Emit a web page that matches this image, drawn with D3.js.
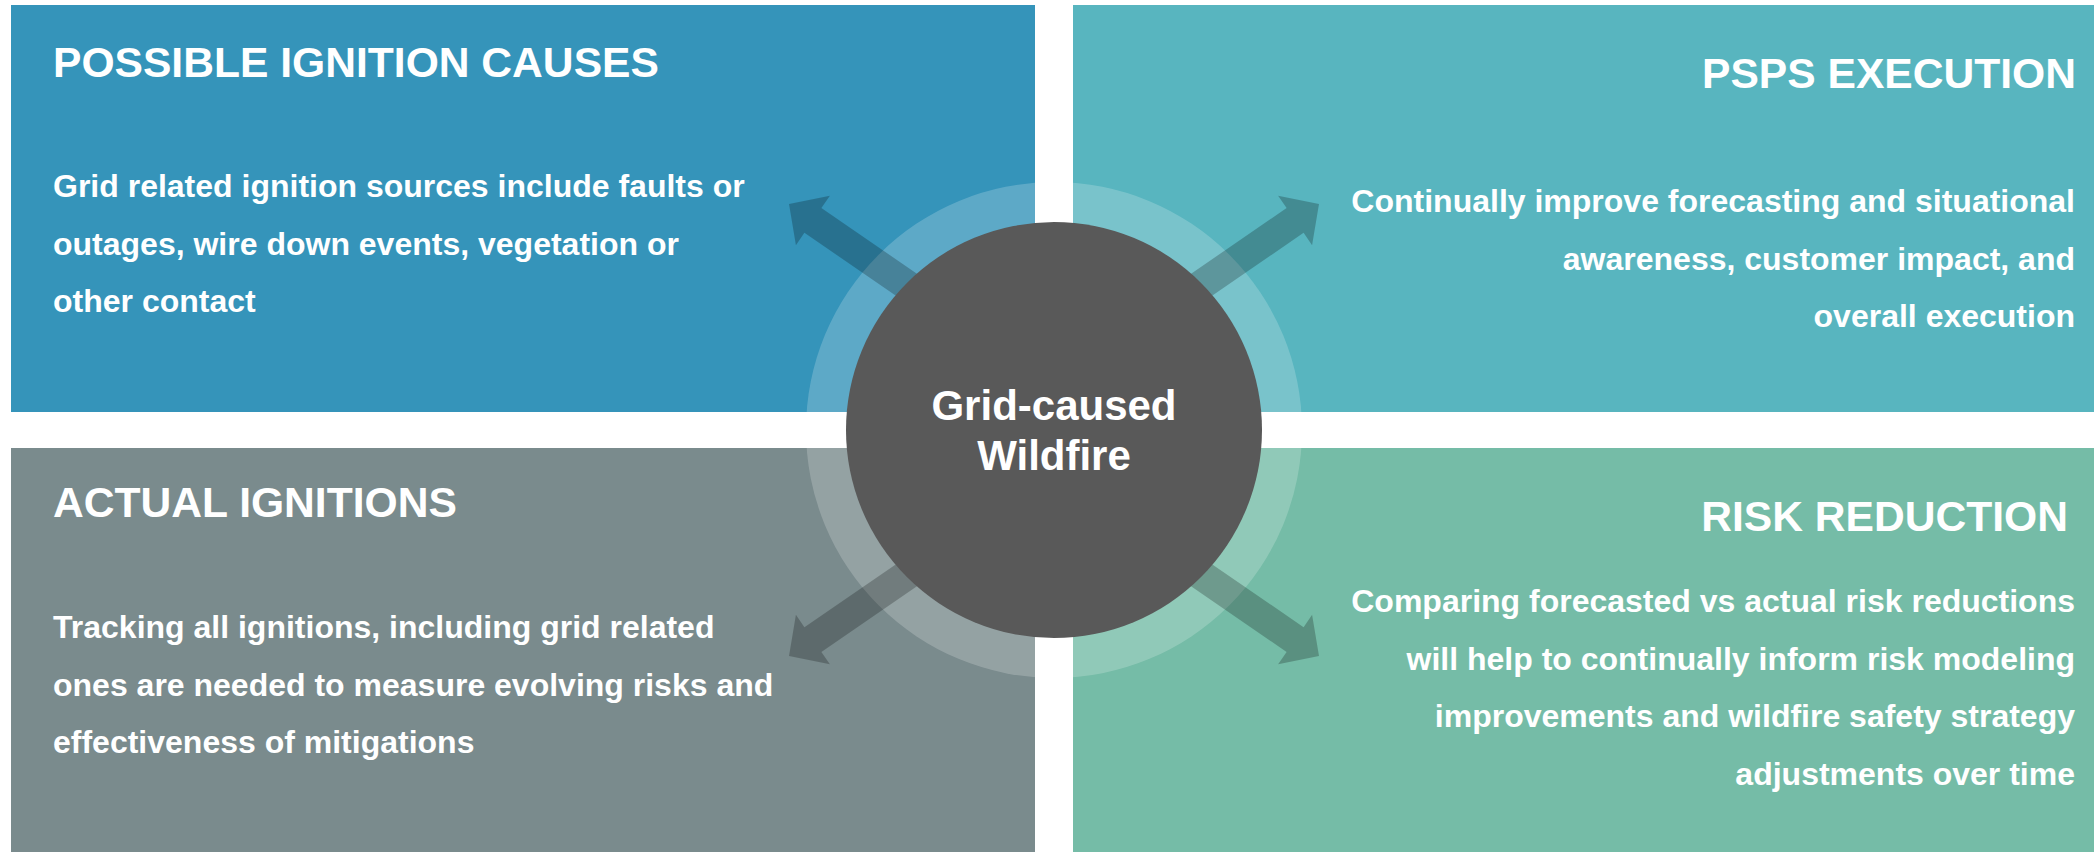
<!DOCTYPE html>
<html>
<head>
<meta charset="utf-8">
<script src="https://cdn.jsdelivr.net/npm/d3@7"></script>
<style>
  body { margin: 0; background: #fff; }
  svg { display: block; }
  text { font-family: "Liberation Sans", Arial, sans-serif; font-weight: bold; fill: #fff; }
</style>
</head>
<body>
<script>
// quadrant content
const titles = ["POSSIBLE IGNITION CAUSES", "PSPS EXECUTION", "ACTUAL IGNITIONS", "RISK REDUCTION"];
const bodyLines = [
  ["Grid related ignition sources include faults or", "outages, wire down events, vegetation or", "other contact"],
  ["Continually improve forecasting and situational", "awareness, customer impact, and", "overall execution"],
  ["Tracking all ignitions, including grid related", "ones are needed to measure evolving risks and", "effectiveness of mitigations"],
  ["Comparing forecasted vs actual risk reductions", "will help to continually inform risk modeling", "improvements and wildfire safety strategy", "adjustments over time"]
];
const fills = ["#3594ba", "#58b5bf", "#7a8b8d", "#75bca7"];
const centerLines = ["Grid-caused", "Wildfire"];

const width = 2094, height = 852;
const cx = 1054, cy = 430;

const svg = d3.select("body").append("svg")
  .attr("width", width)
  .attr("height", height);

// layout per quadrant (col, row, text anchor, title baseline, first body baseline)
const layout = [
  { col: 0, row: 0, anchor: "start", tx: 53, ty: 77, by: 197 },
  { col: 1, row: 0, anchor: "end", tx: 2076, ty: 88, by: 212 },
  { col: 0, row: 1, anchor: "start", tx: 53, ty: 517, by: 638 },
  { col: 1, row: 1, anchor: "end", tx: 2068, ty: 531, by: 612 }
];
const colX = [[11, 1035], [1073, width]];
const rowY = [[5, 412], [448, height]];

const quads = svg.selectAll("g.quad")
  .data(titles.map((t, i) => ({ title: t, lines: bodyLines[i], fill: fills[i], ...layout[i] })))
  .join("g")
  .attr("class", "quad");

quads.append("rect")
  .attr("x", d => colX[d.col][0])
  .attr("y", d => rowY[d.row][0])
  .attr("width", d => colX[d.col][1] - colX[d.col][0])
  .attr("height", d => rowY[d.row][1] - rowY[d.row][0])
  .attr("fill", d => d.fill);

// translucent ring round the centre
svg.append("circle")
  .attr("cx", cx).attr("cy", cy).attr("r", 248)
  .attr("fill", "#fff").attr("fill-opacity", 0.2);

// block arrows pointing out to each corner
const headLen = 29, headHalf = 30, shaftHalf = 15, tailLen = 260;
const arrowShape = [[0, 0], [-headLen, -headHalf], [-headLen, -shaftHalf], [-tailLen, -shaftHalf],
  [-tailLen, shaftHalf], [-headLen, shaftHalf], [-headLen, headHalf]];
const arrows = [
  { sx: -1, sy: -1, angle: 214.5 },
  { sx: 1, sy: -1, angle: -34.5 },
  { sx: -1, sy: 1, angle: 145.5 },
  { sx: 1, sy: 1, angle: 34.5 }
];
const line = d3.line().curve(d3.curveLinearClosed);
svg.selectAll("path.arrow")
  .data(arrows)
  .join("path")
  .attr("class", "arrow")
  .attr("d", line(arrowShape))
  .attr("transform", d => `translate(${cx + d.sx * 265},${cy + d.sy * 226}) rotate(${d.angle})`)
  .attr("fill", "#000")
  .attr("fill-opacity", 0.23);

// centre circle
svg.append("circle")
  .attr("cx", cx).attr("cy", cy).attr("r", 208)
  .attr("fill", "#595959");

svg.selectAll("text.center")
  .data(centerLines)
  .join("text")
  .attr("class", "center")
  .attr("x", cx)
  .attr("y", (d, i) => 420 + i * 50)
  .attr("text-anchor", "middle")
  .style("font-size", "42px")
  .text(d => d);

// titles and body text
quads.append("text")
  .attr("x", d => d.tx)
  .attr("y", d => d.ty)
  .attr("text-anchor", d => d.anchor)
  .style("font-size", "42.6px")
  .text(d => d.title);

quads.each(function(d) {
  const bx = d.anchor === "start" ? d.tx : 2075;
  d3.select(this).selectAll("text.body")
    .data(d.lines)
    .join("text")
    .attr("class", "body")
    .attr("x", bx)
    .attr("y", (l, i) => d.by + i * 57.5)
    .attr("text-anchor", d.anchor)
    .style("font-size", "32px")
    .text(l => l);
});
</script>
</body>
</html>
